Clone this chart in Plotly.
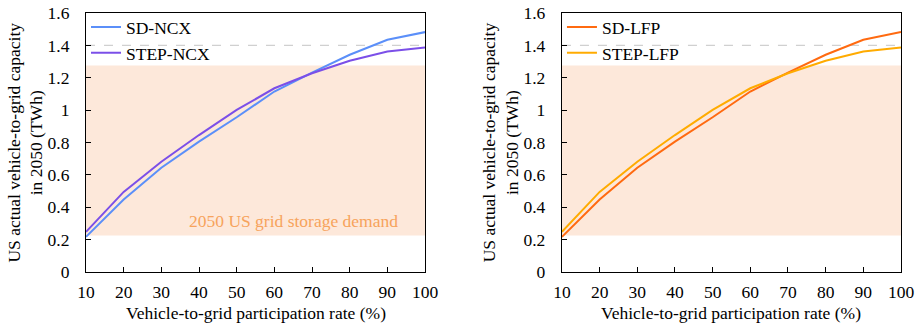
import plotly.graph_objects as go

rates = [10, 20, 30, 40, 50, 60, 70, 80, 90, 100]
sd_ncx = [0.217, 0.448, 0.644, 0.805, 0.956, 1.115, 1.232, 1.342, 1.435, 1.482]
step_ncx = [0.248, 0.495, 0.681, 0.846, 1.001, 1.135, 1.228, 1.305, 1.362, 1.387]
sd_lfp = [0.217, 0.448, 0.644, 0.805, 0.956, 1.115, 1.232, 1.342, 1.435, 1.482]
step_lfp = [0.248, 0.495, 0.681, 0.846, 1.001, 1.135, 1.228, 1.305, 1.362, 1.387]
demand_low, demand_high = 0.225, 1.275
ref_line = 1.4
y_ticks = [0, 0.2, 0.4, 0.6, 0.8, 1, 1.2, 1.4, 1.6]
y_tick_text = ["0", "0.2", "0.4", "0.6", "0.8", "1", "1.2", "1.4", "1.6"]
x_ticks = [10, 20, 30, 40, 50, 60, 70, 80, 90, 100]

FONT = "Liberation Serif, Times New Roman, serif"
FS = 17.5
fig = go.Figure()

for xa, ya in [("x", "y"), ("x2", "y2")]:
    fig.add_trace(go.Scatter(x=[rates[0], rates[-1], rates[-1], rates[0], rates[0]],
                             y=[demand_low, demand_low, demand_high, demand_high, demand_low],
                             fill="toself", fillcolor="#fde8da", line=dict(width=0),
                             mode="lines", showlegend=False, hoverinfo="skip",
                             xaxis=xa, yaxis=ya))
    fig.add_trace(go.Scatter(x=[rates[0], rates[-1]], y=[ref_line, ref_line],
                             mode="lines", line=dict(color="#d0d0d0", width=1.2, dash="dash"),
                             showlegend=False, hoverinfo="skip", xaxis=xa, yaxis=ya))

fig.add_trace(go.Scatter(x=rates, y=sd_ncx, mode="lines", name="SD-NCX",
                         line=dict(color="#5b8ff9", width=2), xaxis="x", yaxis="y", legend="legend"))
fig.add_trace(go.Scatter(x=rates, y=step_ncx, mode="lines", name="STEP-NCX",
                         line=dict(color="#7b4fe8", width=2), xaxis="x", yaxis="y", legend="legend"))
fig.add_trace(go.Scatter(x=rates, y=sd_lfp, mode="lines", name="SD-LFP",
                         line=dict(color="#ff6a10", width=2), xaxis="x2", yaxis="y2", legend="legend2"))
fig.add_trace(go.Scatter(x=rates, y=step_lfp, mode="lines", name="STEP-LFP",
                         line=dict(color="#ffab00", width=2), xaxis="x2", yaxis="y2", legend="legend2"))

axis_common = dict(showline=True, linecolor="black", linewidth=1.2, mirror=True,
                   ticks="inside", ticklen=5, tickcolor="black", showgrid=False, zeroline=False,
                   automargin=False,
                   tickfont=dict(family=FONT, size=FS, color="black"))

fig.update_layout(
    width=918, height=328,
    margin=dict(l=86, r=17, t=13, b=56, autoexpand=False),
    paper_bgcolor="white", plot_bgcolor="white",
    font=dict(family=FONT, size=FS, color="black"),
    xaxis=dict(domain=[0, 0.416], range=[10, 100], tickvals=x_ticks,
               ticklabelstandoff=4, anchor="y", **axis_common),
    yaxis=dict(domain=[0, 1], range=[0, 1.6], tickvals=y_ticks, ticktext=y_tick_text,
               ticklabelstandoff=12, anchor="x", **axis_common),
    xaxis2=dict(domain=[0.584, 1], range=[10, 100], tickvals=x_ticks,
                ticklabelstandoff=4, anchor="y2", **axis_common),
    yaxis2=dict(domain=[0, 1], range=[0, 1.6], tickvals=y_ticks, ticktext=y_tick_text,
                ticklabelstandoff=12, anchor="x2", **axis_common),
    legend=dict(x=0.0, y=1.015, xanchor="left", yanchor="top", bgcolor="rgba(0,0,0,0)",
                font=dict(family=FONT, size=FS, color="black"), tracegroupgap=0,
                itemwidth=30),
    legend2=dict(x=0.584, y=1.015, xanchor="left", yanchor="top", bgcolor="rgba(0,0,0,0)",
                 font=dict(family=FONT, size=FS, color="black"), tracegroupgap=0,
                 itemwidth=30),
    showlegend=True,
)

annotations = [
    dict(text="2050 US grid storage demand", x=93.4, y=0.315, xref="x", yref="y",
         xanchor="right", yanchor="middle", showarrow=False,
         font=dict(family=FONT, size=FS, color="#f7a35c")),
    dict(text="Vehicle-to-grid participation rate (%)", x=0.208, y=-0.158, xref="paper", yref="paper",
         xanchor="center", yanchor="middle", showarrow=False, font=dict(family=FONT, size=FS)),
    dict(text="Vehicle-to-grid participation rate (%)", x=0.792, y=-0.158, xref="paper", yref="paper",
         xanchor="center", yanchor="middle", showarrow=False, font=dict(family=FONT, size=FS)),
    dict(text="US actual vehicle-to-grid capacity<br>in 2050 (TWh)", x=-0.0748, y=0.5,
         xref="paper", yref="paper", xanchor="center", yanchor="middle", textangle=-90,
         showarrow=False, font=dict(family=FONT, size=FS)),
    dict(text="US actual vehicle-to-grid capacity<br>in 2050 (TWh)", x=0.509, y=0.5,
         xref="paper", yref="paper", xanchor="center", yanchor="middle", textangle=-90,
         showarrow=False, font=dict(family=FONT, size=FS)),
]
fig.update_layout(annotations=annotations)

fig.write_html("out.html", config={"displayModeBar": False},
               post_script="document.body.style.margin='0';document.body.style.overflow='hidden';")
